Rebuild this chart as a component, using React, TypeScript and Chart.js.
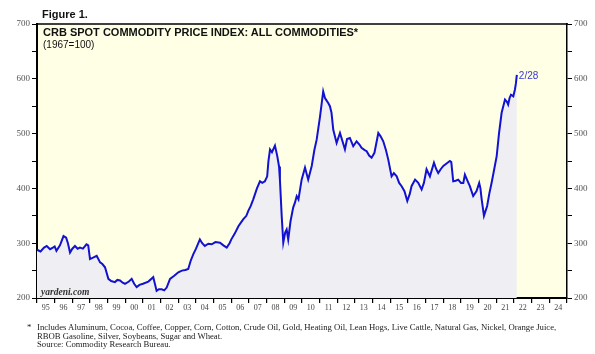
import React, { useEffect, useRef } from "react";
import { Chart, registerables } from "chart.js";

Chart.register(...registerables);

// Time (decimal years) and CRB spot index values
const years: number[] = [
  1995.0, 1995.2, 1995.4, 1995.55, 1995.74, 1995.9, 1996.0, 1996.1, 1996.3, 1996.5,
  1996.65, 1996.75, 1996.87, 1997.0, 1997.15, 1997.3, 1997.43, 1997.6, 1997.8, 1997.9,
  1998.0, 1998.2, 1998.38, 1998.57, 1998.7, 1998.85, 1999.04, 1999.2, 1999.41, 1999.55,
  1999.7, 1999.85, 1999.98, 2000.2, 2000.36, 2000.5, 2000.64, 2000.8, 2001.0, 2001.3,
  2001.58, 2001.68, 2001.77, 2001.9, 2002.06, 2002.2, 2002.34, 2002.53, 2002.75, 2003.0,
  2003.2, 2003.4, 2003.56, 2003.7, 2003.85, 2004.0, 2004.22, 2004.35, 2004.5, 2004.7,
  2004.89, 2005.1, 2005.36, 2005.55, 2005.74, 2005.9, 2006.0, 2006.2, 2006.4, 2006.55,
  2006.68, 2006.85, 2006.96, 2007.1, 2007.24, 2007.45, 2007.62, 2007.75, 2007.9, 2008.03,
  2008.1, 2008.19, 2008.3, 2008.47, 2008.6, 2008.7, 2008.75, 2008.85, 2008.94, 2009.05,
  2009.13, 2009.22, 2009.35, 2009.5, 2009.6, 2009.7, 2009.8, 2009.98, 2010.17, 2010.35,
  2010.55, 2010.7, 2010.83, 2011.02, 2011.2, 2011.3, 2011.36, 2011.5, 2011.58, 2011.67,
  2011.77, 2011.96, 2012.15, 2012.3, 2012.43, 2012.55, 2012.71, 2012.9, 2013.09, 2013.25,
  2013.37, 2013.55, 2013.66, 2013.8, 2013.94, 2014.1, 2014.32, 2014.45, 2014.6, 2014.75,
  2014.88, 2015.07, 2015.2, 2015.36, 2015.5, 2015.64, 2015.8, 2015.96, 2016.1, 2016.2,
  2016.4, 2016.58, 2016.77, 2016.9, 2017.05, 2017.24, 2017.47, 2017.6, 2017.71, 2017.85,
  2018.0, 2018.2, 2018.37, 2018.45, 2018.56, 2018.7, 2018.84, 2019.0, 2019.13, 2019.22,
  2019.35, 2019.5, 2019.69, 2019.88, 2020.03, 2020.1, 2020.17, 2020.3, 2020.4, 2020.48,
  2020.6, 2020.73, 2020.85, 2021.02, 2021.15, 2021.3, 2021.49, 2021.6, 2021.67, 2021.75,
  2021.83, 2021.96, 2022.05, 2022.11, 2022.16,
];

const crbIndex: number[] = [
  288, 285, 292, 295, 289, 292, 294, 286, 296, 313,
  310, 300, 283, 290, 295, 290, 292, 290, 298, 296,
  271, 274, 277, 265, 262, 256, 235, 231, 229, 233,
  232, 228, 226, 230, 235, 226, 220, 224, 226, 230,
  238, 225, 213, 216, 216, 214, 219, 235, 240, 247,
  250, 251, 253, 268, 280, 290, 307, 300, 295, 299,
  298, 302, 301, 296, 292, 300, 307, 318, 331, 338,
  344, 350, 359, 368, 380, 400, 413, 410, 413, 422,
  450, 471, 466, 478, 459, 440, 416, 350, 301, 320,
  325, 307, 340, 365, 374, 386, 380, 416, 438, 416,
  441, 470, 489, 531, 577, 565, 562, 555, 550, 538,
  507, 483, 501, 485, 471, 490, 492, 477, 486, 480,
  474, 470, 468, 460, 456, 465, 501, 495, 486, 470,
  453, 422, 428, 422, 410, 404, 395, 377, 390, 404,
  416, 410, 398, 410, 435, 422, 447, 435, 428, 435,
  441, 446, 450, 448, 413, 414, 416, 410, 410, 425,
  415, 404, 386, 395, 410, 400, 380, 350, 360, 368,
  390, 410, 430, 459, 500, 538, 562, 558, 553, 565,
  571, 568, 580, 592, 607,
];

const lastLabel = "2/28";
const yearLabels: string[] = [
  "95", "96", "97", "98", "99", "00", "01", "02", "03", "04",
  "05", "06", "07", "08", "09", "10", "11", "12", "13", "14",
  "15", "16", "17", "18", "19", "20", "21", "22", "23", "24",
];
const yMin = 200;
const yMax = 700;
const xStart = 1995;
const xEnd = 2025;

const footLines: string[] = [
  "Includes Aluminum, Cocoa, Coffee, Copper, Corn, Cotton, Crude Oil, Gold, Heating Oil, Lean Hogs, Live Cattle, Natural Gas, Nickel, Orange Juice,",
  "RBOB Gasoline, Silver, Soybeans, Sugar and Wheat.",
  "Source: Commodity Research Bureau.",
];

const serif = '"Liberation Serif", "Times New Roman", serif';
const sans = '"Liberation Sans", Arial, sans-serif';

export default function App() {
  const canvasRef = useRef<HTMLCanvasElement | null>(null);

  useEffect(() => {
    document.body.style.margin = "0";
    const canvas = canvasRef.current;
    if (!canvas) return;

    const bgPlugin = {
      id: "bgPlugin",
      beforeDraw(chart: any) {
        const { ctx, chartArea } = chart;
        const { left, top, right, bottom } = chartArea;
        ctx.save();
        ctx.fillStyle = "#FFFFE6";
        ctx.fillRect(left, top, right - left, bottom - top);
        ctx.restore();
      },
      afterDraw(chart: any) {
        const { ctx, chartArea } = chart;
        const { left, top, right } = chartArea;
        ctx.save();
        ctx.strokeStyle = "#000";
        ctx.lineWidth = 1.5;
        ctx.beginPath();
        ctx.moveTo(left - 1, top);
        ctx.lineTo(right + 1, top);
        ctx.stroke();
        // end label
        const meta = chart.getDatasetMeta(0);
        const pt = meta.data[meta.data.length - 1];
        ctx.fillStyle = "#3A3AD0";
        ctx.font = `10px ${sans}`;
        ctx.textBaseline = "middle";
        ctx.textAlign = "left";
        ctx.fillText(lastLabel, pt.x + 2, pt.y + 1);
        ctx.restore();
      },
    };

    const yTicks = {
      color: "#555",
      font: { family: serif, size: 9 },
      padding: 2,
      stepSize: 50,
      callback: (v: any) => (Number(v) % 100 === 0 ? String(v) : ""),
    };

    const chart = new Chart(canvas, {
      type: "line",
      data: {
        datasets: [
          {
            data: years.map((x, i) => ({ x, y: crbIndex[i] })),
            borderColor: "#1212D0",
            borderWidth: 2,
            backgroundColor: "#EFEFF3",
            fill: "start",
            pointRadius: 0,
            tension: 0,
          },
        ],
      },
      options: {
        animation: false,
        responsive: false,
        maintainAspectRatio: false,
        layout: { padding: { top: 24, left: 0, right: 0, bottom: 0 } },
        plugins: {
          legend: { display: false },
          tooltip: { enabled: false },
          title: { display: false },
        },
        scales: {
          x: {
            type: "linear",
            min: xStart,
            max: xEnd,
            afterBuildTicks: (scale: any) => {
              const t: any[] = [];
              for (let v = xStart; v <= xEnd; v += 0.5) t.push({ value: v });
              scale.ticks = t;
            },
            afterFit: (scale: any) => {
              scale.height = 56;
            },
            ticks: {
              autoSkip: false,
              maxRotation: 0,
              minRotation: 0,
              padding: 0,
              color: "#444",
              font: { family: serif, size: 8 },
              callback: (v: any) => {
                const n = Number(v);
                if (Number.isInteger(n)) return "";
                const idx = Math.floor(n) - xStart;
                return yearLabels[idx] ?? "";
              },
            },
            grid: {
              drawOnChartArea: false,
              tickLength: 5,
              color: (ctx: any) =>
                ctx.tick && Number.isInteger(ctx.tick.value) ? "#000" : "rgba(0,0,0,0)",
              lineWidth: 1.2,
            },
            border: { display: true, color: "#000", width: 2 },
          },
          y: {
            type: "linear",
            position: "left",
            min: yMin,
            max: yMax,
            afterFit: (scale: any) => {
              scale.width = 37;
            },
            ticks: yTicks,
            grid: { drawOnChartArea: false, tickLength: 5, color: "#000", lineWidth: 1 },
            border: { display: true, color: "#000", width: 2 },
          },
          y2: {
            type: "linear",
            position: "right",
            min: yMin,
            max: yMax,
            afterFit: (scale: any) => {
              scale.width = 28;
            },
            ticks: yTicks,
            grid: { drawOnChartArea: false, tickLength: 5, color: "#000", lineWidth: 1 },
            border: { display: true, color: "#000", width: 1.5 },
          },
        },
      },
      plugins: [bgPlugin],
    } as any);

    return () => {
      chart.destroy();
    };
  }, []);

  const abs = (left: number, top: number, extra: React.CSSProperties = {}): React.CSSProperties => ({
    position: "absolute",
    left,
    top,
    whiteSpace: "nowrap",
    margin: 0,
    ...extra,
  });

  return (
    <div style={{ position: "relative", width: 595, height: 354, background: "#fff", overflow: "hidden" }}>
      <canvas ref={canvasRef} width={595} height={354} style={{ position: "absolute", left: 0, top: 0, width: 595, height: 354 }} />
      <div style={abs(42, 8, { font: `bold 11px/12px ${sans}`, color: "#111" })}>Figure 1.</div>
      <div style={abs(43, 26, { font: `bold 11px/12px ${sans}`, color: "#111" })}>
        CRB SPOT COMMODITY PRICE INDEX: ALL COMMODITIES*
      </div>
      <div style={abs(43, 39, { font: `10px/11px ${sans}`, color: "#111" })}>(1967=100)</div>
      <div style={abs(41, 287, { font: `italic bold 9.5px/10px ${serif}`, color: "#333" })}>yardeni.com</div>
      <div style={abs(27, 323, { font: `8.7px/9px ${serif}`, color: "#222" })}>*</div>
      {footLines.map((t, i) => (
        <div key={i} style={abs(37, 323 + i * 8.7, { font: `8.7px/9px ${serif}`, color: "#222" })}>
          {t}
        </div>
      ))}
    </div>
  );
}
